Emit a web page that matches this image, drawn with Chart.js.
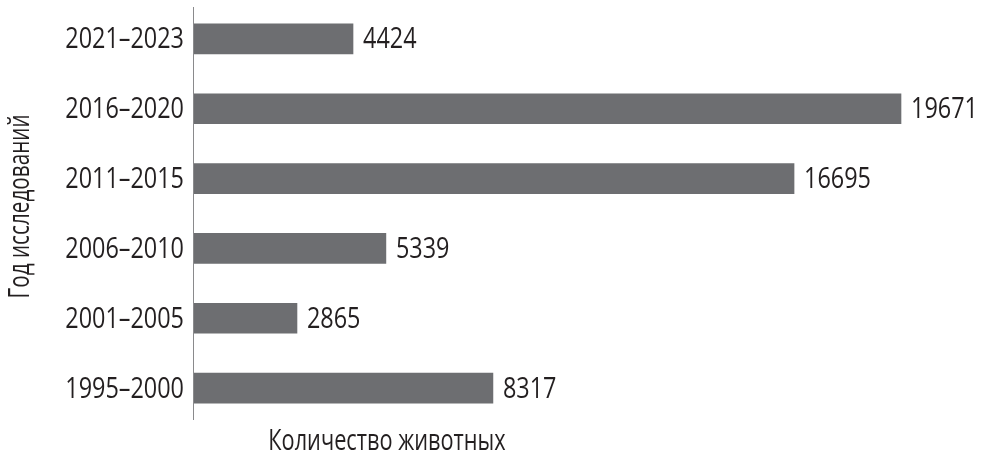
<!DOCTYPE html>
<html>
<head>
<meta charset="utf-8">
<script src="https://cdn.jsdelivr.net/npm/chart.js@4/dist/chart.umd.min.js"></script>
<style>
html,body{margin:0;padding:0;background:#fff;}
#wrap{width:983px;height:459px;position:relative;}
</style>
</head>
<body>
<div id="wrap"><canvas id="c"></canvas></div>
<script>
const categories = ['2021–2023','2016–2020','2011–2015','2006–2010','2001–2005','1995–2000'];
const animalCounts = [4424, 19671, 16695, 5339, 2865, 8317];
const xAxisTitle = 'Количество животных';
const yAxisTitle = 'Год исследований';

const FONT = '30px "Open Sans", "Liberation Sans", sans-serif';
const SX = 0.78; // horizontal condensing to mimic a condensed face
const TEXT_COLOR = '#231f20';
const BAR_COLOR = '#6d6e71';

function drawText(ctx, text, x, y, align, baseline, sx) {
  ctx.save();
  ctx.translate(x, y);
  ctx.scale(sx || SX, 1);
  ctx.textAlign = align;
  ctx.textBaseline = baseline;
  ctx.fillText(text, 0, 0);
  ctx.restore();
}

const overlay = {
  id: 'overlay',
  afterDatasetsDraw(chart) {
    const ctx = chart.ctx;
    const area = chart.chartArea;
    const xs = chart.scales.x;
    const ys = chart.scales.y;
    ctx.save();
    // axis line
    const x0 = Math.round(xs.getPixelForValue(0)) - 0.5;
    ctx.strokeStyle = '#8a8a8c';
    ctx.lineWidth = 1;
    ctx.beginPath();
    ctx.moveTo(x0, area.top + 3);
    ctx.lineTo(x0, area.bottom - 3);
    ctx.stroke();
    ctx.fillStyle = TEXT_COLOR;
    ctx.font = FONT;
    // category labels
    ys.ticks.forEach((t, i) => {
      drawText(ctx, chart.data.labels[i], area.left - 10, ys.getPixelForTick(i) + 1, 'right', 'middle');
    });
    // value labels
    const meta = chart.getDatasetMeta(0);
    meta.data.forEach((bar, i) => {
      drawText(ctx, String(chart.data.datasets[0].data[i]), bar.x + 10, bar.y + 1, 'left', 'middle');
    });
    // x title
    drawText(ctx, xAxisTitle, area.left + 193, 450, 'center', 'alphabetic', 0.725);
    // y title
    ctx.translate(20, (area.top + area.bottom) / 2 - 7);
    ctx.rotate(-Math.PI / 2);
    drawText(ctx, yAxisTitle, 0, 0, 'center', 'middle', 0.69);
    ctx.restore();
  }
};

new Chart(document.getElementById('c'), {
  type: 'bar',
  data: {
    labels: categories,
    datasets: [{
      data: animalCounts,
      backgroundColor: BAR_COLOR,
      borderWidth: 0,
      barThickness: 30
    }]
  },
  options: {
    indexAxis: 'y',
    responsive: true,
    maintainAspectRatio: false,
    animation: false,
    layout: { padding: { top: 4, right: 8, bottom: 36, left: 0 } },
    plugins: { legend: { display: false }, tooltip: { enabled: false } },
    scales: {
      x: { display: false, min: 0, max: 21730 },
      y: {
        grid: { display: false },
        border: { display: false },
        ticks: { display: false },
        afterFit(scale) {
          scale.width = 194;
          scale.paddingTop = 0;
          scale.paddingBottom = 0;
        }
      }
    }
  },
  plugins: [overlay]
});
</script>
</body>
</html>
